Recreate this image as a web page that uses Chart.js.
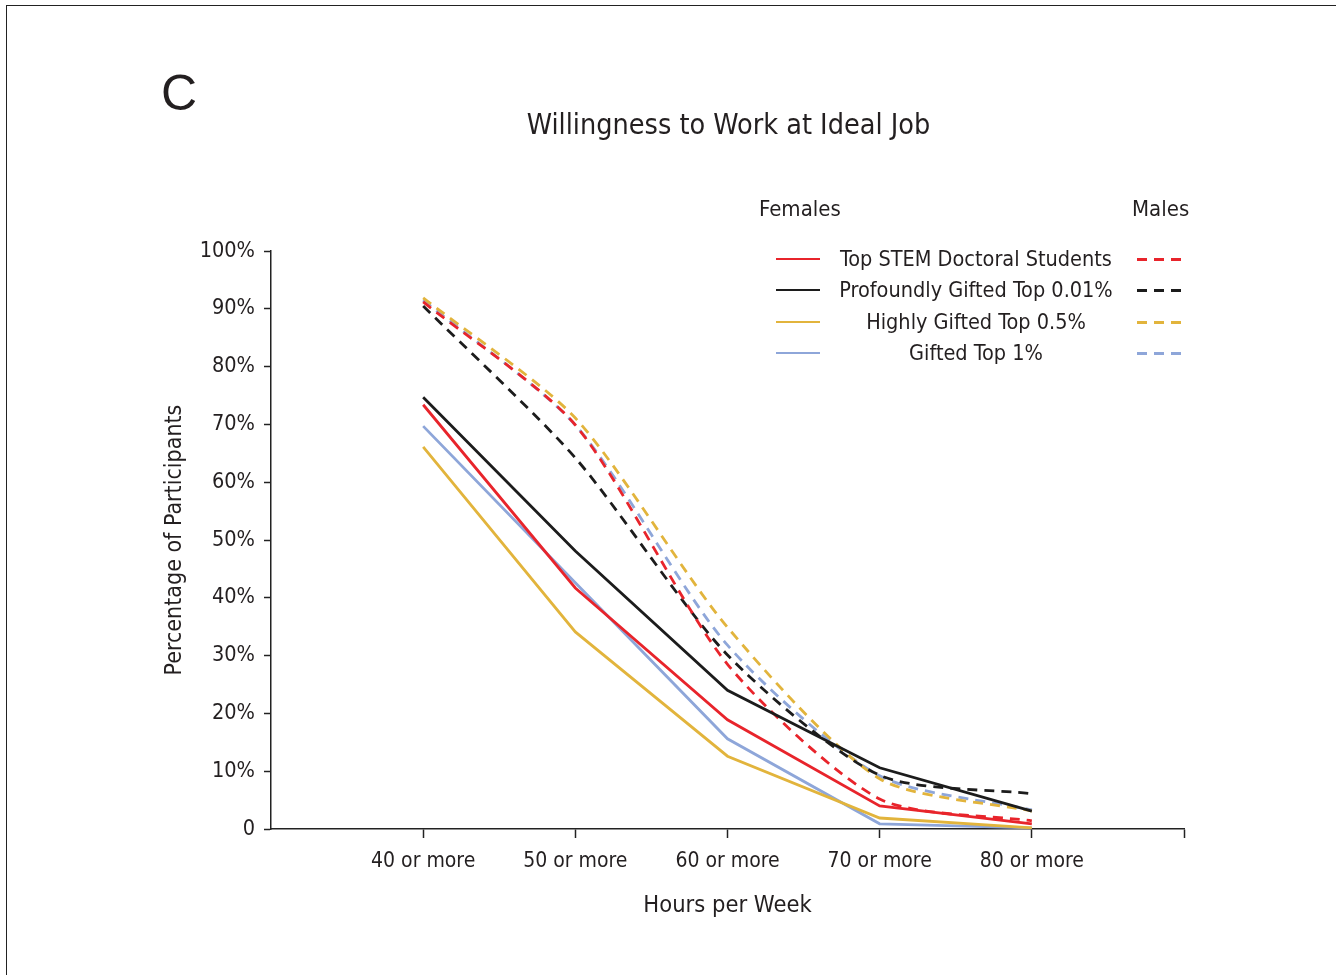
<!DOCTYPE html>
<html lang="en">
<head>
    <meta charset="UTF-8">
    <title>Willingness to Work at Ideal Job</title>
    <script src="https://cdn.jsdelivr.net/npm/chart.js"></script>
    <style>
        html, body { margin: 0; padding: 0; background: #fff; }
        #wrap { position: relative; width: 1336px; height: 975px; overflow: hidden; }
        #frame { position: absolute; left: 6px; top: 5px; width: 1340px; height: 980px;
                 border-top: 1.5px solid #222; border-left: 1.5px solid #222; }
        canvas { position: absolute; left: 0; top: 0; }
        .txt { position: absolute; color: #231f20; white-space: nowrap;
               font-family: 'Liberation Sans Narrow', 'DejaVu Sans Condensed', sans-serif; }
        #panel { left: 161px; top: 64px; font-family: 'Liberation Sans', Arial, sans-serif; font-size: 50px; }
        #title { left: 0; width: 1457px; text-align: center; top: 108px; font-size: 28.5px; }
        .hdr { top: 196px; font-size: 22px; }
        .row { position: absolute; left: 770px; width: 420px; height: 31px; }
        .row .name { position: absolute; left: 56px; width: 300px; text-align: center; top: 1px; font-size: 21.5px; line-height: 26px; }
        .row .solid { position: absolute; left: 6px; width: 44px; top: 13px; border-top: 2.5px solid; }
        .row .dash { position: absolute; left: 367px; width: 44px; top: 13px; height: 3px; }
    </style>
</head>
<body>
<div id="wrap">
    <div id="frame"></div>
    <canvas id="chart" width="1336" height="975"></canvas>
    <div class="txt" id="panel">C</div>
    <div class="txt" id="title">Willingness to Work at Ideal Job</div>
    <div class="txt hdr" style="left:759px">Females</div>
    <div class="txt hdr" style="left:1132px">Males</div>
    <div id="legend"></div>
</div>
<script>
    const hours = ['40 or more', '50 or more', '60 or more', '70 or more', '80 or more'];
    const groups = ['Top STEM Doctoral Students', 'Profoundly Gifted Top 0.01%', 'Highly Gifted Top 0.5%', 'Gifted Top 1%'];
    const colors = ['#e8242b', '#1c1c1c', '#e2b43c', '#8ea6d9'];

    // females (solid lines)
    const femaleStem = [73.4, 41.7, 18.9, 4.0, 0.9];
    const femaleTop001 = [74.7, 48.1, 24.0, 10.6, 3.1];
    const femaleTop05 = [66.1, 34.1, 12.6, 1.9, 0.2];
    const femaleTop1 = [69.7, 42.6, 15.6, 0.9, 0.2];

    // males (dashed lines)
    const maleStem = [91.2, 69.9, 28.5, 5.2, 1.4];
    const maleTop001 = [90.5, 64.2, 30.1, 9.3, 6.1];
    const maleTop05 = [91.9, 71.1, 34.9, 8.7, 3.1];
    const maleTop1 = [91.5, 69.9, 31.8, 9.2, 3.3];

    const yTicks = [0, 10, 20, 30, 40, 50, 60, 70, 80, 90, 100];

    const FONT = "'Liberation Sans Narrow', 'DejaVu Sans Condensed', sans-serif";
    const female = [femaleStem, femaleTop001, femaleTop05, femaleTop1];
    const male = [maleStem, maleTop001, maleTop05, maleTop1];

    function points(vals) {
        return vals.map((v, i) => ({ x: i + 1, y: v }));
    }

    const datasets = [];
    female.forEach((vals, i) => {
        datasets.push({
            label: groups[i] + ' (Females)',
            data: points(vals),
            borderColor: colors[i],
            borderWidth: 2.8,
            pointRadius: 0,
            tension: 0
        });
    });
    male.forEach((vals, i) => {
        datasets.push({
            label: groups[i] + ' (Males)',
            data: points(vals),
            borderColor: colors[i],
            borderWidth: 2.8,
            borderDash: [10, 7],
            pointRadius: 0,
            tension: 0.25
        });
    });

    // html legend
    const legend = document.getElementById('legend');
    groups.forEach((g, i) => {
        const row = document.createElement('div');
        row.className = 'row';
        row.style.top = (245 + i * 31.3) + 'px';
        row.innerHTML =
            '<div class="solid" style="border-color:' + colors[i] + '"></div>' +
            '<div class="txt name">' + g + '</div>' +
            '<div class="dash" style="background:repeating-linear-gradient(90deg,' + colors[i] +
            ' 0 10px, transparent 10px 17px)"></div>';
        legend.appendChild(row);
    });

    new Chart(document.getElementById('chart'), {
        type: 'line',
        data: { datasets: datasets },
        options: {
            responsive: false,
            animation: false,
            layout: { padding: { top: 251, right: 152, left: 0, bottom: 0 } },
            plugins: { legend: { display: false }, tooltip: { enabled: false } },
            scales: {
                x: {
                    type: 'linear',
                    min: 0,
                    max: hours.length + 1,
                    afterFit: s => { s.height = 146; },
                    afterBuildTicks: s => { s.ticks = [0, 1, 2, 3, 4, 5, 6].map(v => ({ value: v })); },
                    ticks: {
                        color: '#231f20',
                        font: { family: FONT, size: 21 },
                        padding: 11,
                        maxRotation: 0,
                        autoSkip: false,
                        callback: v => hours[v - 1] || ''
                    },
                    grid: {
                        drawOnChartArea: false,
                        drawTicks: true,
                        tickLength: 9,
                        tickWidth: 1.5,
                        tickColor: c => (c.tick && c.tick.value === 0) ? 'rgba(0,0,0,0)' : '#222'
                    },
                    border: { color: '#222', width: 1.5 },
                    title: {
                        display: true,
                        text: 'Hours per Week',
                        color: '#231f20',
                        font: { family: FONT, size: 23.5 },
                        padding: { top: 0, bottom: 55 }
                    }
                },
                y: {
                    min: 0,
                    max: 100,
                    afterFit: s => { s.width = 271; },
                    afterBuildTicks: s => { s.ticks = yTicks.map(v => ({ value: v })); },
                    ticks: {
                        color: '#231f20',
                        font: { family: FONT, size: 21.5 },
                        padding: 9,
                        callback: v => v === 0 ? '0' : v + '%'
                    },
                    grid: {
                        drawOnChartArea: false,
                        drawTicks: true,
                        tickLength: 7,
                        tickWidth: 1.5,
                        tickColor: '#222'
                    },
                    border: { color: '#222', width: 1.5 },
                    title: {
                        display: true,
                        text: 'Percentage of Participants',
                        color: '#231f20',
                        font: { family: FONT, size: 23 },
                        padding: { top: 161, bottom: 0 }
                    }
                }
            }
        }
    });
</script>
</body>
</html>
